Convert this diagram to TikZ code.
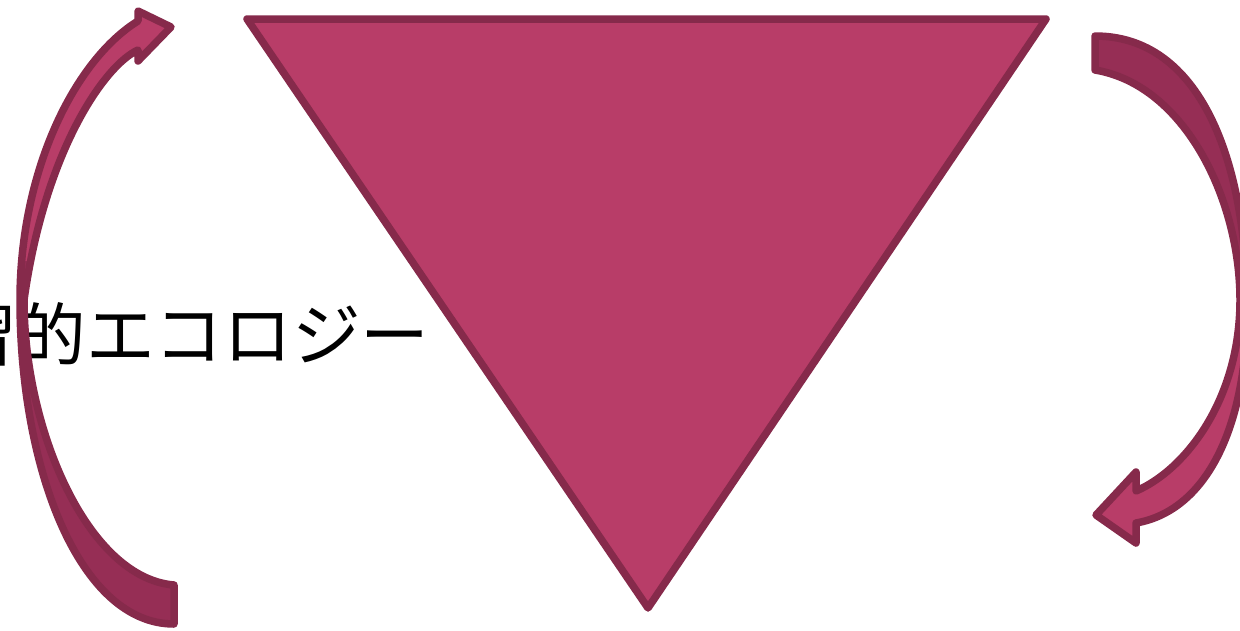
\documentclass[tikz,border=0pt]{standalone}
\usepackage{fontspec}
\newfontfamily\jpfont{Noto Sans CJK JP}
\definecolor{triMagenta}{RGB}{184, 61, 104}
\definecolor{backMagenta}{RGB}{150, 46, 85}
\definecolor{edgeMagenta}{RGB}{134, 42, 75}

% outlines of the two bent block arrows (pixel units)
\newcommand{\leftLoop}{(174,585) -- (174,624)
  .. controls (80,624) and (20,470) .. (20,300)
  .. controls (20,170) and (75,60) .. (138,21)
  -- (138,11) -- (171,27) -- (138,61) -- (138,50)
  .. controls (105,65) and (45,150) .. (24,300)
  .. controls (24,430) and (88,578) .. (174,585) -- cycle}
\newcommand{\rightLoop}{(1095,70) -- (1095,36)
  .. controls (1200,36) and (1247,160) .. (1247,310)
  .. controls (1247,420) and (1210,510) .. (1136,523)
  -- (1136,543) -- (1096,515) -- (1136,472) -- (1136,491)
  .. controls (1185,470) and (1240,400) .. (1240,300)
  .. controls (1240,200) and (1185,85) .. (1095,70) -- cycle}

\begin{document}
\begin{tikzpicture}[x=0.02cm, y=-0.02cm,
    edge/.style={draw=edgeMagenta, line width=0.15cm, line join=round}]
  \useasboundingbox (0,0) rectangle (1240,630);

  \node[anchor=base east, inner sep=0pt, font=\jpfont\fontsize{39.1pt}{47pt}\selectfont]
    (label) at (430,360) {習的エコロジー};

  \draw[edge, fill=triMagenta] (247,19) -- (1046,19) -- (648,608) -- cycle;

  % left arrow: back face below, front face above
  \fill[backMagenta] \leftLoop;
  \begin{scope}
    \clip (0,0) rectangle (1240,260);
    \fill[triMagenta] \leftLoop;
  \end{scope}
  \draw[edge] \leftLoop;

  % right arrow: back face above, front face below
  \fill[backMagenta] \rightLoop;
  \begin{scope}
    \clip (0,330) rectangle (1240,630);
    \fill[triMagenta] \rightLoop;
  \end{scope}
  \draw[edge] \rightLoop;
\end{tikzpicture}
\end{document}
